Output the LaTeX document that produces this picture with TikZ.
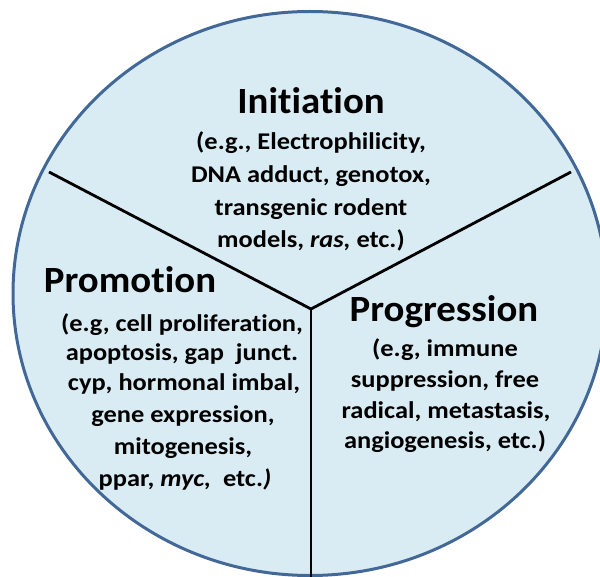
\documentclass[tikz,border=0pt]{standalone}
\usepackage{fontspec}
\setmainfont{Carlito}[Ligatures={NoCommon,NoDiscretionary},RawFeature={-liga;-clig}]
\newfontfamily\ttlfont[FakeStretch=1.05,Ligatures={NoCommon,NoDiscretionary},RawFeature={-liga;-clig}]{Carlito}
\newfontfamily\subfont[FakeStretch=1.1,Ligatures={NoCommon,NoDiscretionary},RawFeature={-liga;-clig}]{Carlito}
\definecolor{cfill}{RGB}{218,236,243}
\definecolor{cedge}{RGB}{66,104,152}
\begin{document}
\begin{tikzpicture}[x=1pt,y=-1pt,
  ttl/.style={anchor=base,font=\ttlfont\bfseries\fontsize{37}{40}\selectfont,inner sep=0pt},
  sub/.style={anchor=base,font=\subfont\bfseries\fontsize{24}{28}\selectfont,inner sep=0pt},
  divider/.style={line width=2.8pt,black,line join=miter},
]
\useasboundingbox (0,0) rectangle (600,577);
\fill[white] (0,0) rectangle (600,577);
\draw[fill=cfill,draw=cedge,line width=3pt] (310,293.5) ellipse [x radius=297pt, y radius=282pt];
\coordinate (hub) at (311,309);
\coordinate (lend) at (49,172);
\coordinate (rend) at (571,172);
\coordinate (bend) at (311,580);
\draw[divider] (lend) -- (hub) -- (rend);
\draw[divider] (hub) -- (bend);
% Initiation
\node[ttl] (it) at (311,114) {Initiation};
\node[sub] (i1) at (311,150) {(e.g., Electrophilicity,};
\node[sub] (i2) at (311,183) {DNA adduct, genotox,};
\node[sub] (i3) at (311,216) {transgenic rodent};
\node[sub] (i4) at (311,248) {models, \textit{ras,} etc.)};
% Promotion
\node[ttl] (pt) at (130,293) {Promotion};
\node[sub] (p1) at (182,332) {(e.g, cell proliferation,};
\node[sub] (p2) at (182,361) {apoptosis, gap\ \ junct.};
\node[sub] (p3) at (184,391) {cyp, hormonal imbal,};
\node[sub] (p4) at (183,422) {gene expression,};
\node[sub] (p5) at (183,454) {mitogenesis,};
\node[sub] (p6) at (185,486) {ppar, \textit{myc,}\ \ etc.\textit{)}};
% Progression
\node[ttl] (gt) at (444,322) {Progression};
\node[sub] (g1) at (445,357) {(e.g, immune};
\node[sub] (g2) at (445,388) {suppression, free};
\node[sub] (g3) at (446,418) {radical, metastasis,};
\node[sub] (g4) at (445,448) {angiogenesis, etc.)};
\end{tikzpicture}
\end{document}
